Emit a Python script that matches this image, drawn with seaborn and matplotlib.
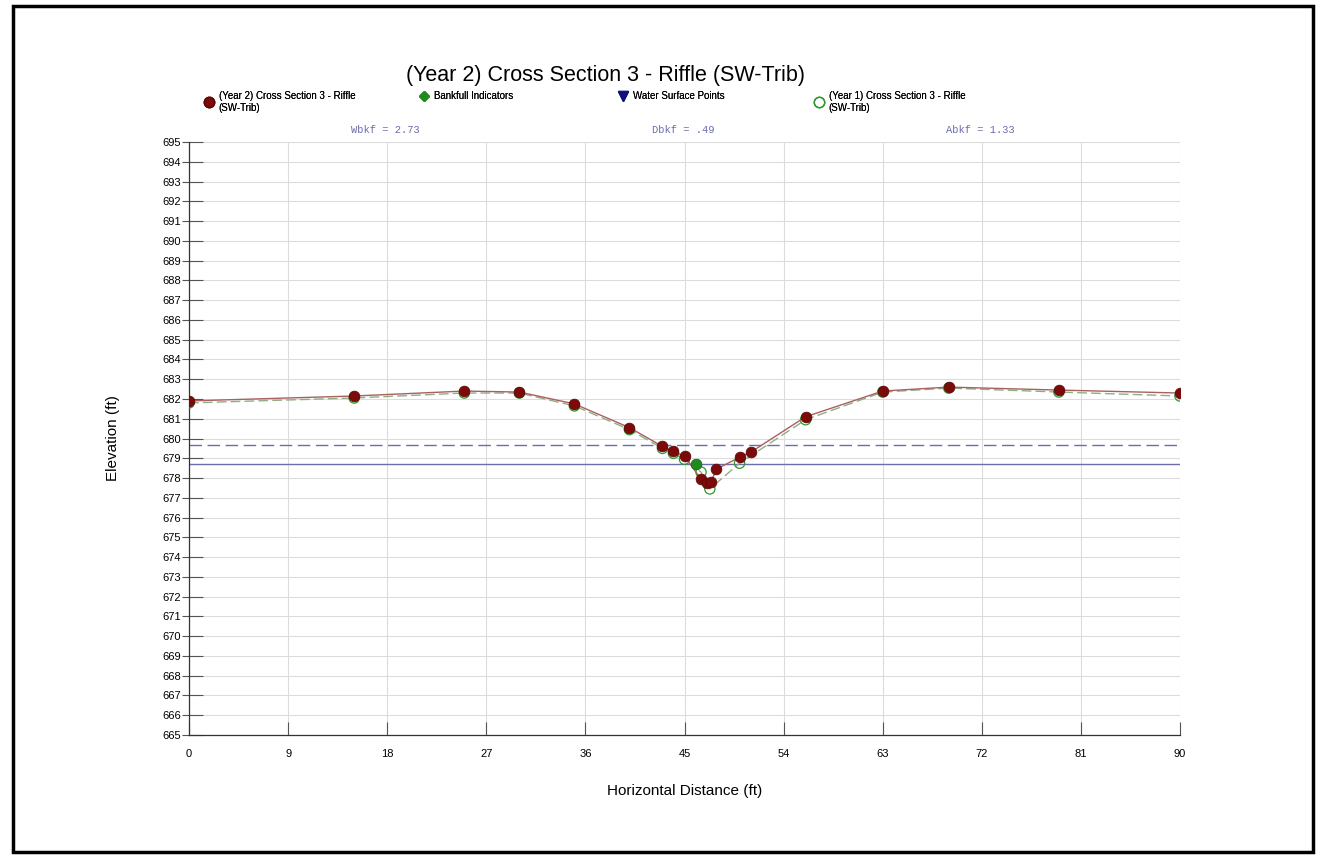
import numpy as np
import pandas as pd
import matplotlib
matplotlib.use("Agg")
import matplotlib.pyplot as plt
from matplotlib.lines import Line2D
from matplotlib.patches import Rectangle
from matplotlib.ticker import FixedLocator
import seaborn as sns

# Year 2 survey (station ft, elevation ft)
year2_station = [0, 15, 25, 30, 35, 40, 43, 44, 45, 46.5, 47, 47.4, 47.9, 50, 51, 56, 63, 69, 79, 90]
year2_elev = [681.9, 682.15, 682.4, 682.35, 681.75, 680.55, 679.6, 679.35, 679.1,
              677.95, 677.75, 677.8, 678.45, 679.05, 679.3, 681.1, 682.4, 682.6, 682.45, 682.3]

# Year 1 survey
year1_station = [0, 15, 25, 30, 35, 40, 43, 44, 45, 46.5, 47.3, 50, 56, 63, 69, 79, 90]
year1_elev = [681.8, 682.05, 682.3, 682.3, 681.65, 680.45, 679.5, 679.25, 678.95,
              678.3, 677.45, 678.75, 680.95, 682.35, 682.55, 682.35, 682.15]

# bankfull indicator
bkf_station = [46]
bkf_elev = [678.7]

bankfull_line = 678.7
floodprone_line = 679.67

stats_labels = ["Wbkf = 2.73", "Dbkf = .49", "Abkf = 1.33"]
x_ticks = list(range(0, 91, 9))
y_ticks = list(range(665, 696))

sns.set_style("white")
plt.rcParams['font.family'] = ['Liberation Sans', 'DejaVu Sans']
plt.rcParams['text.color'] = 'black'
plt.rcParams['axes.labelcolor'] = 'black'
plt.rcParams['xtick.labelcolor'] = 'black'
plt.rcParams['ytick.labelcolor'] = 'black'

W, H = 1326, 858
fig = plt.figure(figsize=(W / 100, H / 100), dpi=100)
ax = fig.add_axes([189 / W, 1 - 735 / H, (1180 - 189) / W, (735 - 142) / H])

red = "#7d0a0a"
green = "#2e9a2e"
slate = "#6c6cae"

ax.axhline(floodprone_line, color=slate, lw=1.0, ls=(0, (9, 4)), zorder=2)
ax.axhline(bankfull_line, color=slate, lw=1.0, zorder=2)

y1 = pd.DataFrame({"x": year1_station, "y": year1_elev})
y2 = pd.DataFrame({"x": year2_station, "y": year2_elev})

sns.lineplot(data=y1, x="x", y="y", ax=ax, sort=False, estimator=None,
             color="#8fae86", lw=1.0, ls=(0, (7, 3)), zorder=3)
sns.scatterplot(data=y1, x="x", y="y", ax=ax, s=55, facecolor="none",
                edgecolor=green, linewidth=0.9, zorder=4)
sns.lineplot(data=y2, x="x", y="y", ax=ax, sort=False, estimator=None,
             color="#a86060", lw=1.0, zorder=5)
sns.scatterplot(data=y2, x="x", y="y", ax=ax, s=60, color=red,
                edgecolor="#5a0505", linewidth=0.5, zorder=6)
sns.scatterplot(x=bkf_station, y=bkf_elev, ax=ax, s=60, color="#1f8a1f",
                edgecolor="#136013", linewidth=0.5, zorder=7)

ax.set_xlim(0, 90)
ax.set_ylim(665, 695)
ax.set_xticks(x_ticks)
ax.set_yticks(y_ticks)
ax.yaxis.remove_overlapping_locs = False
ax.yaxis.set_minor_locator(FixedLocator(y_ticks))
ax.grid(True, color="#dcdcdc", lw=0.8, zorder=0)
ax.set_axisbelow(True)

for s in ["top", "right"]:
    ax.spines[s].set_visible(False)
for s in ["left", "bottom"]:
    ax.spines[s].set_color("#333333")
    ax.spines[s].set_linewidth(0.9)

ax.tick_params(which="both", left=True, bottom=True)
ax.tick_params(axis="y", which="major", direction="out", length=5, width=0.8,
               color="#555555", pad=1, labelsize=8)
ax.tick_params(axis="y", which="minor", direction="in", length=10, width=0.8,
               color="#555555")
ax.tick_params(axis="x", which="major", direction="in", length=9.5, width=0.8,
               color="#555555", pad=10, labelsize=8)

ax.set_xlabel("Horizontal Distance (ft)", fontsize=11, labelpad=18)
ax.set_ylabel("Elevation (ft)", fontsize=11, labelpad=30)

fig.text(605 / W, 1 - 75 / H, "(Year 2) Cross Section 3 - Riffle (SW-Trib)",
         ha="center", va="center", fontsize=15.5)

# legend items placed individually across the top
items = [
    (Line2D([], [], ls="none", marker="o", ms=7.5, mfc=red, mec="#5a0505"),
     "(Year 2) Cross Section 3 - Riffle\n(SW-Trib)", 204),
    (Line2D([], [], ls="none", marker="D", ms=5, mfc="#1f8a1f", mec="#1f8a1f"),
     "Bankfull Indicators", 419),
    (Line2D([], [], ls="none", marker="v", ms=7, mfc="#10107a", mec="#10107a"),
     "Water Surface Points", 618),
    (Line2D([], [], ls="none", marker="o", ms=7.5, mfc="none", mec=green),
     "(Year 1) Cross Section 3 - Riffle\n(SW-Trib)", 814),
]
for handle, label, xpx in items:
    leg = fig.legend([handle], [label], loc="upper left",
                     bbox_to_anchor=(xpx / W, 1 - 91 / H), frameon=False,
                     fontsize=7, handlelength=1.0, handletextpad=0.5,
                     borderpad=0, borderaxespad=0)
    fig.add_artist(leg)

for label, xpx in zip(stats_labels, [385, 683, 980]):
    fig.text(xpx / W, 1 - 130 / H, label, ha="center", va="center",
             fontsize=7.5, color=slate, family="Liberation Mono")

fig.add_artist(Rectangle((13 / W, 6 / H), 1300 / W, 846 / H, transform=fig.transFigure,
                         fill=False, lw=2.5, ec="black"))

fig.savefig("out.png", dpi=100)
